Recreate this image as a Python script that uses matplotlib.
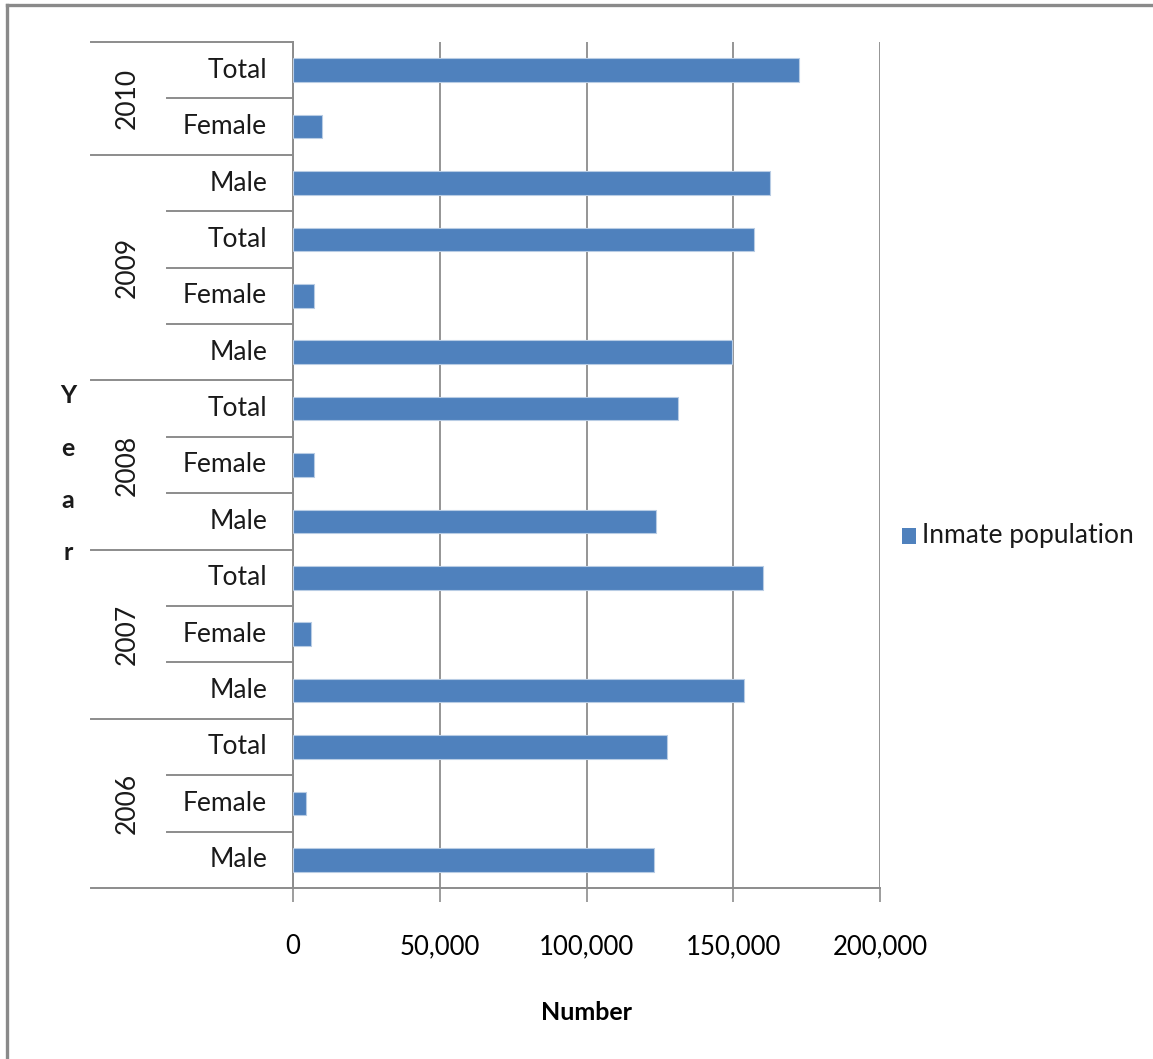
import matplotlib
matplotlib.use("Agg")
import matplotlib.pyplot as plt
import matplotlib.transforms as mtransforms
from matplotlib.patches import Rectangle
from matplotlib.lines import Line2D

# ---- data (bottom to top) ----
years = ["2006", "2007", "2008", "2009", "2010"]
group_sizes = [3, 3, 3, 4, 2]
sub_labels = ["Male", "Female", "Total",
              "Male", "Female", "Total",
              "Male", "Female", "Total",
              "Male", "Female", "Total", "Male",
              "Female", "Total"]
values = [122900, 4300, 127500,
          153700, 6300, 160000,
          123800, 7100, 131100,
          149500, 7100, 156900, 162400,
          9900, 172400]
xticks = [0, 50000, 100000, 150000, 200000]
xtick_labels = ["0", "50,000", "100,000", "150,000", "200,000"]
series_name = "Inmate population"

FONT = ["Lato", "DejaVu Sans"]
plt.rcParams["font.family"] = FONT

W, H = 1153, 1059
fig = plt.figure(figsize=(W / 100, H / 100), dpi=100)
fig.patch.set_facecolor("white")

# outer frame: only left and top edges visible
frame_c = "#8a8a8a"
fig.add_artist(Line2D([7 / W, 7 / W], [0, 1 - 5 / H], transform=fig.transFigure,
                      color=frame_c, linewidth=2.4))
fig.add_artist(Line2D([7 / W, 1], [1 - 5 / H, 1 - 5 / H], transform=fig.transFigure,
                      color=frame_c, linewidth=2.4))

L, R, T, B = 293, 880, 42, 888
ax = fig.add_axes([L / W, 1 - B / H, (R - L) / W, (B - T) / H])

grid_c = "#8c8c8c"
bar_c = "#4F81BD"

n = len(values)
ypos = list(range(n))
ax.barh(ypos, values, height=0.42, color=bar_c, edgecolor="#b8cce4",
        linewidth=0.8, zorder=3)

ax.set_xlim(0, 200000)
ax.set_ylim(-0.5, n - 0.5)
ax.set_xticks(xticks)
ax.set_xticklabels(xtick_labels, fontsize=18.5)
ax.tick_params(axis="x", length=10, width=1.2, color=grid_c, pad=23)
ax.set_yticks([])
for s in ["top", "right"]:
    ax.spines[s].set_visible(False)
for s in ["left", "bottom"]:
    ax.spines[s].set_color(grid_c)
    ax.spines[s].set_linewidth(1.4)
ax.xaxis.grid(True, color=grid_c, linewidth=1.3, zorder=0)
ax.set_axisbelow(True)

ax.set_xlabel("Number", fontsize=18, fontweight="bold", labelpad=30)

# hierarchical category axis
tr = mtransforms.blended_transform_factory(ax.transAxes, ax.transData)
span = R - L
def fx(px):
    return (px - L) / span

x_outer = fx(91)
x_inner = fx(167)
x_sub = fx(267)
x_year = fx(127)

for i, lab in enumerate(sub_labels):
    ax.text(x_sub, i, lab, transform=tr, ha="right", va="center",
            fontsize=19, color="#1a1a1a")

start = 0
bounds = [-0.5]
for yr, sz in zip(years, group_sizes):
    lo, hi = start - 0.5, start + sz - 0.5
    ax.text(x_year, (lo + hi) / 2, yr, transform=tr, rotation=90,
            ha="center", va="center", fontsize=19, color="#1a1a1a")
    for k in range(1, sz):
        ax.plot([x_inner, 0], [lo + k, lo + k], transform=tr, color=grid_c,
                linewidth=1.4, clip_on=False)
    bounds.append(hi)
    start += sz
for b in bounds:
    ax.plot([x_outer, 0], [b, b], transform=tr, color=grid_c,
            linewidth=1.4, clip_on=False)

# stacked "Year" axis title
for j, ch in enumerate("Year"):
    fig.text(68 / W, 1 - (396 + j * 52) / H, ch, ha="center", va="center",
             fontsize=18, fontweight="bold", color="#1a1a1a")

# legend
fig.add_artist(Rectangle((902 / W, 1 - 544 / H), 14 / W, 16 / H,
                         transform=fig.transFigure, facecolor=bar_c,
                         edgecolor="none"))
fig.text(922 / W, 1 - 535 / H, series_name, ha="left", va="center",
         fontsize=19, color="#1a1a1a")

fig.savefig("out.png", dpi=100)
